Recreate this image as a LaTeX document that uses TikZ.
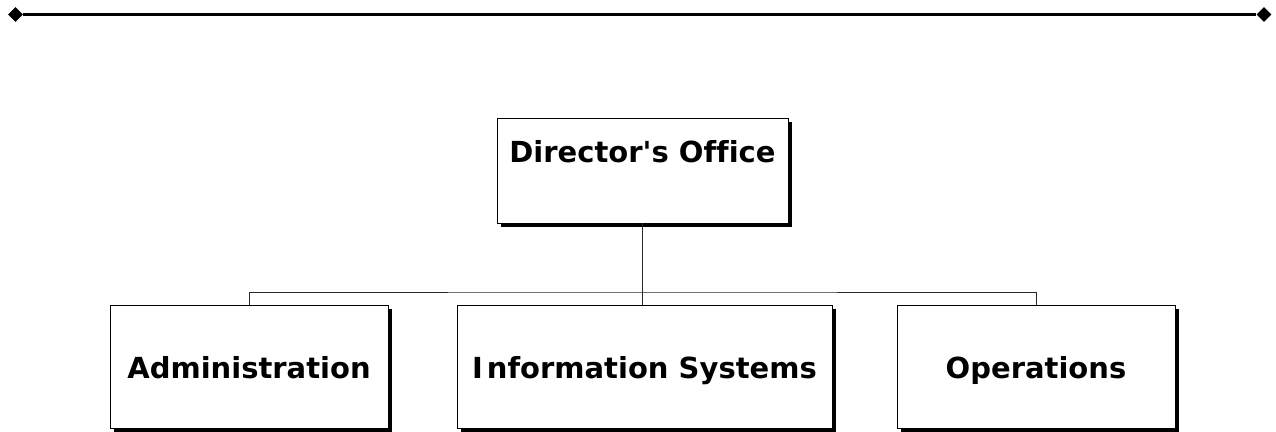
\documentclass[tikz,border=0pt]{standalone}
\usepackage{fontspec}
\setmainfont[Ligatures=NoCommon]{DejaVu Sans}
\usetikzlibrary{shapes.geometric,shadows}
\tikzset{
  orgbox/.style={draw=black, line width=0.9pt, fill=white, rectangle, inner sep=0pt,
    drop shadow={shadow xshift=3.5pt, shadow yshift=-3.5pt, fill=black, opacity=1},
    font=\fontsize{29}{31}\selectfont\bfseries},
  link/.style={draw=black!85, line width=0.8pt},
  tip/.style={diamond, fill=black, inner sep=0pt, minimum width=15pt, minimum height=15pt},
  rule/.style={draw=black, line width=2.4pt}
}
\begin{document}
\begin{tikzpicture}[x=1pt, y=-1pt]
\useasboundingbox (0,0) rectangle (1276,431);
% top rule
\node[tip] (tl) at (15.5,14.5) {};
\node[tip] (tr) at (1264,14.5) {};
\draw[rule] (tl) -- (tr);
% boxes
\node[orgbox, minimum width=291pt, minimum height=105pt] (dir) at (642.5,170.5)
  {\smash{\raisebox{8pt}{Director\textquotesingle s Office}}};
\node[orgbox, minimum width=278pt, minimum height=123pt] (adm) at (249,366.5)
  {\smash{\raisebox{-11.5pt}{Administration}}};
\node[orgbox, minimum width=375pt, minimum height=123pt] (inf) at (644.5,366.5)
  {\smash{\raisebox{-11.5pt}{I\kern4pt nformation Systems}}};
\node[orgbox, minimum width=278pt, minimum height=123pt] (ops) at (1036,366.5)
  {\smash{\raisebox{-11.5pt}{Operations}}};
% connectors
\coordinate (bus) at (642.5,292);
\draw[link] (dir.south) -- (bus);
\draw[link] (adm.north) |- (bus) -| (ops.north);
\draw[link] (bus) -- (bus |- inf.north);
\end{tikzpicture}
\end{document}
